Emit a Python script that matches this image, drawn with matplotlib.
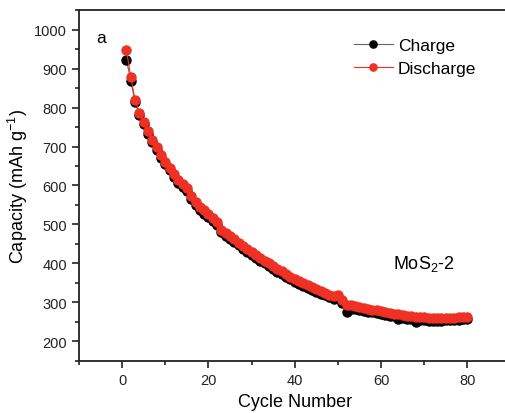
import matplotlib
matplotlib.use("Agg")
import matplotlib.pyplot as plt
from matplotlib.ticker import MultipleLocator

plt.rcParams['font.family'] = ['Liberation Sans', 'DejaVu Sans']
plt.rcParams['mathtext.fontset'] = 'custom'
plt.rcParams['mathtext.rm'] = 'Liberation Sans'
plt.rcParams['mathtext.it'] = 'Liberation Sans'

cycles = list(range(1, 81))
discharge = [948, 879, 819, 787, 762, 739, 717, 699, 678, 661,
             646, 630, 614, 605, 593, 574, 558, 546, 536, 526,
             516, 506, 485, 478, 470, 462, 453, 445, 437, 429,
             421, 414, 407, 400, 393, 386, 380, 373, 366, 360,
             354, 349, 344, 339, 334, 329, 324, 320, 316, 318,
             305, 294, 292, 290, 288, 286, 284, 281, 279, 277,
             275, 273, 271, 269, 267, 266, 264, 263, 262, 261,
             260, 259, 259, 259, 259, 260, 260, 261, 261, 262]
charge = [923, 869, 814, 782, 757, 733, 711, 692, 671, 654,
          639, 623, 606, 597, 585, 566, 549, 538, 528, 518,
          508, 498, 480, 471, 463, 455, 446, 438, 430, 422,
          414, 407, 400, 393, 386, 379, 373, 366, 359, 353,
          347, 342, 337, 332, 327, 322, 318, 313, 309, 310,
          298, 276, 284, 282, 280, 278, 276, 274, 272, 270,
          268, 266, 264, 258, 260, 258, 256, 250, 255, 254,
          253, 253, 253, 253, 254, 254, 255, 255, 256, 256]

fig = plt.figure(figsize=(5.05, 4.14), dpi=100)
ax = fig.add_axes([79/505, 52.3/414, 431.5/505, 0.8464])

ax.plot(cycles, charge, '-o', color='#666666', lw=0.8, mfc='black', mec='black',
        ms=6.5, label='Charge')
ax.plot(cycles, discharge, '-o', color='#ee3124', lw=0.8, mfc='#ee3124', mec='#ee3124',
        ms=6.5, label='Discharge')

ax.set_xlim(-10, 90)
ax.set_ylim(150, 1050)
ax.xaxis.set_major_locator(MultipleLocator(20))
ax.xaxis.set_minor_locator(MultipleLocator(10))
ax.yaxis.set_major_locator(MultipleLocator(100))
ax.yaxis.set_minor_locator(MultipleLocator(50))
ax.set_yticks(range(200, 1001, 100))
ax.tick_params(which='both', direction='out', width=1.2, top=False, right=False, labelsize=10.5,
               colors='#222222')
ax.tick_params(which='major', length=5)
ax.tick_params(which='minor', length=3)
for s in ['left', 'bottom', 'top']:
    ax.spines[s].set_linewidth(1.3)
    ax.spines[s].set_color('#222222')
ax.spines['right'].set_visible(False)

ax.set_xlabel('Cycle Number', fontsize=13, labelpad=5)
ax.set_ylabel('Capacity (mAh g$^{-1}$)', fontsize=13, labelpad=3)

ax.text(0.04, 0.91, 'a', transform=ax.transAxes, fontsize=12.5)
ax.text(0.727, 0.265, 'MoS$_2$-2', transform=ax.transAxes, fontsize=13)

leg = ax.legend(loc='upper left', bbox_to_anchor=(0.61, 0.955), frameon=False, fontsize=12.5,
                handlelength=2.2, handletextpad=0.3, labelspacing=0.45, borderpad=0.2,
                markerscale=0.8)

fig.savefig('out.png', dpi=100)
